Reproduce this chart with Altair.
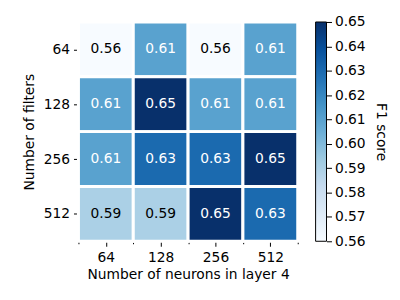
import json
import altair as alt
import pandas as pd

neurons = ["64", "128", "256", "512"]
filters = ["64", "128", "256", "512"]
f1 = [
    [0.56, 0.61, 0.56, 0.61],
    [0.61, 0.65, 0.61, 0.61],
    [0.61, 0.63, 0.63, 0.65],
    [0.59, 0.59, 0.65, 0.63],
]
cbar_ticks = [0.56, 0.57, 0.58, 0.59, 0.60, 0.61, 0.62, 0.63, 0.64, 0.65]
vmin, vmax = 0.56, 0.65
blues = ["#f7fbff", "#deebf7", "#c6dbef", "#9ecae1", "#6baed6",
         "#4292c6", "#2171b5", "#08519c", "#08306b"]

rows = []
for r, fl in enumerate(filters):
    for c, ne in enumerate(neurons):
        rows.append({"x0": c, "x1": c + 1, "xc": c + 0.5,
                     "y0": r, "y1": r + 1, "yc": r + 0.5,
                     "v": f1[r][c], "label": f"{f1[r][c]:.2f}"})
df = pd.DataFrame(rows)

FONT = "DejaVu Sans"
FS = 13.9
W = 221
H = 221

xscale = alt.Scale(domain=[0, 4], nice=False, zero=False)
yscale = alt.Scale(domain=[0, 4], nice=False, zero=False, reverse=True)
cscale = alt.Scale(domain=[vmin, vmax], range=blues, interpolate="rgb")

x_expr = json.dumps(neurons) + "[floor(datum.value)]"
y_expr = json.dumps(filters) + "[floor(datum.value)]"

base = alt.Chart(df)

yaxis = alt.Axis(values=[0.5, 1.5, 2.5, 3.5], labelExpr=y_expr,
                 title="Number of filters", domain=False,
                 grid=False, tickSize=5, labelPadding=4, titlePadding=7)

cells = base.mark_rect(stroke="white", strokeWidth=3).encode(
    x=alt.X("x0:Q", scale=xscale,
            axis=alt.Axis(values=[0.5, 1.5, 2.5, 3.5], labelExpr=x_expr,
                          title="Number of neurons in layer 4", domain=False,
                          grid=False, tickSize=5, labelPadding=4,
                          labelAngle=0, orient="bottom")),
    x2="x1:Q",
    y=alt.Y("y0:Q", scale=yscale, axis=yaxis),
    y2="y1:Q",
    color=alt.Color("v:Q", scale=cscale, legend=None),
)

minor = base.mark_rect(opacity=0).encode(
    x=alt.X("x0:Q", scale=xscale,
            axis=alt.Axis(values=[0, 1, 2, 3, 4], labels=False, title=None,
                          domain=False, grid=False, tickSize=2.5,
                          orient="bottom")),
    x2="x1:Q",
    y=alt.Y("y0:Q", scale=yscale, axis=yaxis),
    y2="y1:Q",
)

text = base.mark_text(font=FONT, fontSize=FS, baseline="middle").encode(
    x=alt.X("xc:Q", scale=xscale, axis=None),
    y=alt.Y("yc:Q", scale=yscale, axis=yaxis),
    text="label:N",
    color=alt.condition(alt.datum.v > 0.6, alt.value("white"), alt.value("black")),
)

heat = alt.layer(cells, minor, text).resolve_axis(x="independent").properties(
    width=W, height=H)

grad = alt.Gradient(
    gradient="linear",
    stops=[alt.GradientStop(color=c, offset=i / (len(blues) - 1)) for i, c in enumerate(blues)],
    x1=0, x2=0, y1=1, y2=0,
)
cbar_df = pd.DataFrame({"lo": [vmin], "hi": [vmax]})
cbar = alt.Chart(cbar_df).mark_rect(fill=grad, stroke="black", strokeWidth=1).encode(
    x=alt.value(0), x2=alt.value(11),
    y=alt.Y("lo:Q", scale=alt.Scale(domain=[vmin, vmax], nice=False, zero=False),
            axis=alt.Axis(orient="right", values=cbar_ticks, format=".2f",
                          title="F1 score", titleAngle=90, domain=False,
                          grid=False, tickSize=5, labelPadding=3,
                          titlePadding=8)),
    y2="hi:Q",
).properties(width=11, height=H)

chart = alt.hconcat(heat, cbar, spacing=15).properties(
    padding={"left": 14, "top": 6, "right": 5, "bottom": 5}
).configure_view(stroke=None).configure_axis(
    labelFont=FONT, titleFont=FONT, labelFontSize=FS, titleFontSize=FS,
    labelColor="black", titleColor="black", tickColor="black",
    titleFontWeight="normal",
)

chart.save("out.html", embed_options={"renderer": "svg", "actions": False})
